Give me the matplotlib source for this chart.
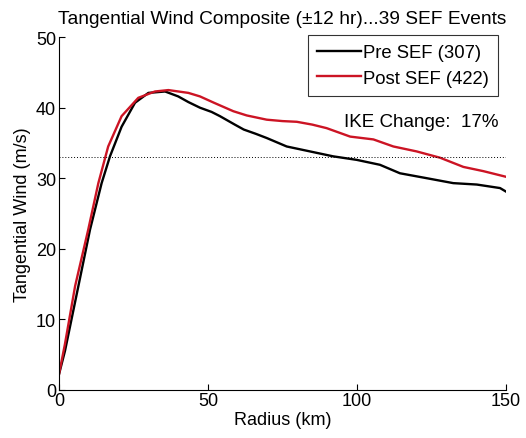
import matplotlib
matplotlib.use("Agg")
from matplotlib import pyplot as plt

plt.rcParams['font.family'] = ['Liberation Sans', 'DejaVu Sans']

# composite profiles
radius_pre = [0, 2, 6.5, 10.4, 14.3, 17.1, 21, 25.5, 30, 35.6, 40, 43.4, 47.3, 51.2,
              54, 59, 62, 66, 69.7, 76.4, 84.2, 92, 99.9, 107.7, 114.4, 123.4,
              132.3, 140.2, 148, 150]
wind_pre = [2.2, 5.5, 14.7, 22.7, 29.3, 33.1, 37.3, 40.7, 42.1, 42.3, 41.6, 40.8, 40.0, 39.4,
            38.8, 37.6, 36.9, 36.3, 35.7, 34.5, 33.8, 33.1, 32.6, 31.9, 30.7, 30.0,
            29.3, 29.1, 28.6, 28.1]

radius_post = [0, 2, 5.4, 9.8, 13.2, 16.5, 21, 26.6, 32.2, 36.7, 43.4, 47.3, 52, 58.5,
               63, 69.7, 75, 79.8, 85, 89.8, 97.7, 105.5, 112.2, 120, 127.9, 135.7,
               142.4, 150]
wind_post = [2.2, 6.5, 14.7, 22.7, 29.3, 34.5, 38.8, 41.4, 42.3, 42.5, 42.1, 41.6, 40.7, 39.5,
             38.9, 38.3, 38.1, 38.0, 37.6, 37.1, 35.9, 35.5, 34.5, 33.8, 32.9, 31.6,
             31.0, 30.2]

ref_wind = 33
labels = ['Pre SEF (307)', 'Post SEF (422)']

fig = plt.figure(figsize=(5.26, 4.39), dpi=100)
ax = fig.add_axes([0.1122, 0.110, 0.8498, 0.803])

ax.plot(radius_pre, wind_pre, color='black', lw=1.7, label=labels[0])
ax.plot(radius_post, wind_post, color='#cc1424', lw=1.7, label=labels[1])
ax.plot([0, 150], [ref_wind, ref_wind], color='black', lw=0.7, linestyle=(0, (1, 2)))

ax.set_xlim(0, 150)
ax.set_ylim(0, 50)
ax.set_xticks([0, 50, 100, 150])
ax.set_yticks([0, 10, 20, 30, 40, 50])
ax.spines['top'].set_visible(False)
ax.spines['right'].set_visible(False)
ax.tick_params(direction='in', length=4, width=0.8, labelsize=13, pad=2)

ax.set_xlabel('Radius (km)', fontsize=13, labelpad=1)
ax.set_ylabel('Tangential Wind (m/s)', fontsize=13, labelpad=4)
ax.set_title('Tangential Wind Composite (\u00b112 hr)...39 SEF Events', fontsize=13.8, pad=10)

leg = ax.legend(loc='upper right', bbox_to_anchor=(0.983, 1.006), fontsize=13.3,
                frameon=True, fancybox=False, handlelength=2.4, handletextpad=0.1,
                borderpad=0.5, labelspacing=0.45, borderaxespad=0)
leg.get_frame().set_edgecolor('black')
leg.get_frame().set_linewidth(0.8)

ax.text(147.5, 38.0, 'IKE Change:  17%', ha='right', va='center', fontsize=13.5)

fig.savefig('out.png', dpi=100)
